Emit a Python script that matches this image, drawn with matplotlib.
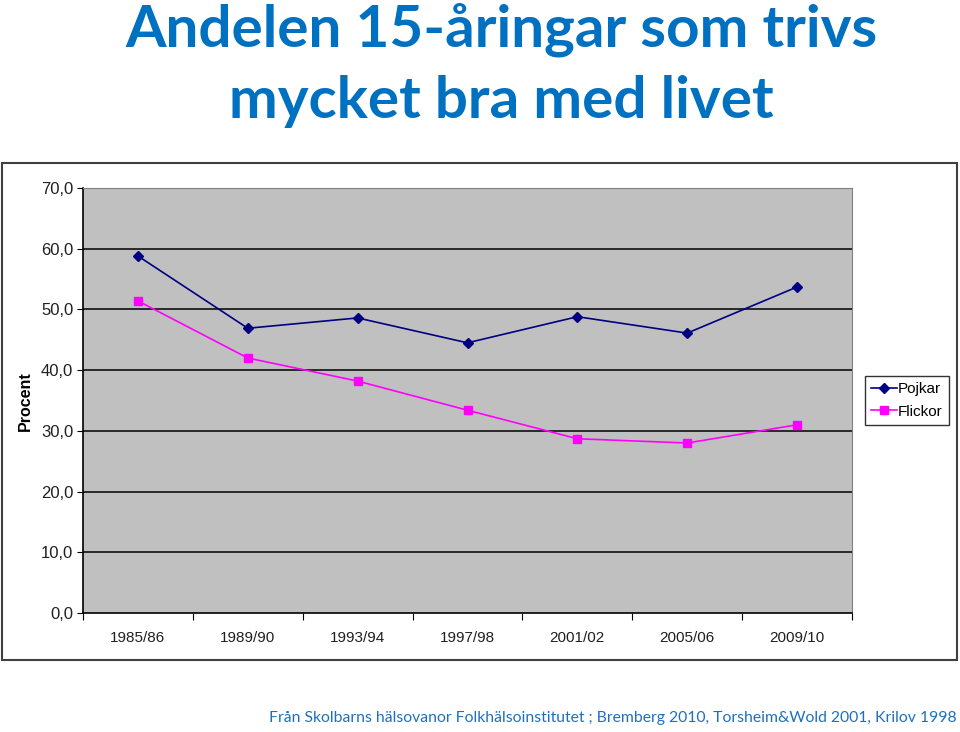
import matplotlib
matplotlib.use("Agg")
import matplotlib.pyplot as plt
from matplotlib.patches import Rectangle
from matplotlib.ticker import FuncFormatter

categories = ["1985/86", "1989/90", "1993/94", "1997/98", "2001/02", "2005/06", "2009/10"]
pojkar = [58.8, 46.9, 48.6, 44.5, 48.8, 46.1, 53.7]
flickor = [51.4, 42.0, 38.2, 33.4, 28.7, 28.0, 31.0]
yticks = [0, 10, 20, 30, 40, 50, 60, 70]

W, H = 960, 732
fig = plt.figure(figsize=(W / 100, H / 100), dpi=100)

def fx(px):
    return px / W

def fy(py):
    return 1 - py / H

# Title
title_color = "#0070C0"
fig.text(fx(501), fy(30), "Andelen 15-åringar som trivs", ha="center", va="center",
         fontsize=42, fontweight="bold", color=title_color, family="Lato")
fig.text(fx(501), fy(101), "mycket bra med livet", ha="center", va="center",
         fontsize=42, fontweight="bold", color=title_color, family="Lato")

# Chart border
fig.patches.append(Rectangle((fx(2), fy(660)), fx(955), fy(163) - fy(660),
                             transform=fig.transFigure, fill=False,
                             edgecolor="#404040", linewidth=1.5))

ax = fig.add_axes([fx(83), fy(613), fx(769), fy(188) - fy(613)])
ax.set_facecolor("#C0C0C0")
x = list(range(len(categories)))
ax.plot(x, pojkar, color="#000080", marker="D", markersize=5, linewidth=1.2, label="Pojkar")
ax.plot(x, flickor, color="#FF00FF", marker="s", markersize=5.5, linewidth=1.2, label="Flickor")

ax.set_xlim(-0.5, len(categories) - 0.5)
ax.set_ylim(0, 70)
ax.set_yticks(yticks)
ax.yaxis.set_major_formatter(FuncFormatter(lambda v, p: f"{v:.1f}".replace(".", ",")))
for v in yticks[1:-1]:
    ax.axhline(v, color="black", linewidth=1.1, zorder=1)

ax.set_xticks([i + 0.5 for i in range(-1, len(categories))])
ax.set_xticklabels([])
ax.set_xticks(x, minor=True)
ax.set_xticklabels(categories, minor=True)
ax.tick_params(axis="x", which="major", length=5, direction="out", color="black")
ax.tick_params(axis="x", which="minor", length=0, pad=13, labelsize=11)
ax.tick_params(axis="y", length=4, direction="out", labelsize=12, pad=3)

for s in ["top", "right"]:
    ax.spines[s].set_color("#808080")
for s in ["left", "bottom"]:
    ax.spines[s].set_color("black")
    ax.spines[s].set_linewidth(1.2)

for lbl in ax.get_xticklabels(minor=True) + ax.get_yticklabels():
    lbl.set_family("Liberation Sans")
    lbl.set_color("#202020")

fig.text(fx(25), fy(401), "Procent", rotation=90, ha="center", va="center",
         fontsize=11.5, fontweight="bold", family="Liberation Sans")

leg = fig.legend(loc="upper left", bbox_to_anchor=(fx(865), fy(376)),
                 frameon=True, fancybox=False, edgecolor="black",
                 prop={"family": "Liberation Sans", "size": 11},
                 handlelength=1.7, handletextpad=0.05, borderpad=0.4,
                 labelspacing=0.55, borderaxespad=0)
leg.get_frame().set_linewidth(1.0)

fig.text(fx(957), fy(718), "Från Skolbarns hälsovanor Folkhälsoinstitutet ; Bremberg 2010, Torsheim&Wold 2001, Krilov 1998",
         ha="right", va="center", fontsize=11.3, color="#1F6FBF", family="Lato")

fig.savefig("out.png", dpi=100)
